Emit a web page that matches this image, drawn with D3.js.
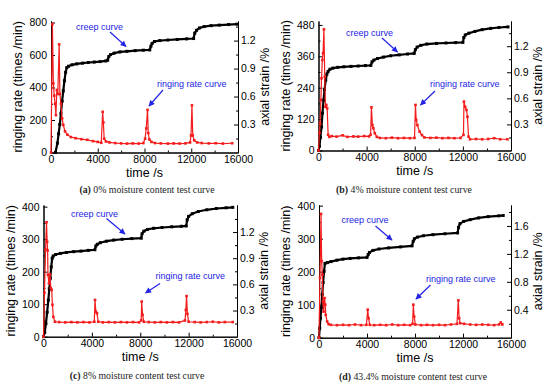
<!DOCTYPE html>
<html>
<head>
<meta charset="utf-8">
<script src="https://cdn.jsdelivr.net/npm/d3@7"></script>
<style>
  body { margin: 0; background: #fff; }
  svg { display: block; }
  .tick text { font-family: "Liberation Sans", Arial, sans-serif; font-size: 10.5px; fill: #000; }
  .title { font-family: "Liberation Sans", Arial, sans-serif; font-size: 12.5px; fill: #000; }
  .note { font-family: "Liberation Sans", Arial, sans-serif; font-size: 9px; fill: #2323e6; }
  .caption { font-family: "Liberation Serif", "DejaVu Serif", serif; font-size: 9.8px; fill: #222; }
</style>
</head>
<body>
<div id="chart"></div>
<script>

// time axis ticks (shared)
var timeTicks = [0, 4000, 8000, 12000, 16000];
var timeMinor = [2000, 6000, 10000, 14000];

// (a) 0% moisture
var creepA = [[380,0],[550,0.1],[650,0.2],[750,0.3],[850,0.42],[950,0.55],[1050,0.66],[1150,0.77],[1250,0.86],[1350,0.91],
  [1500,0.925],[1800,0.94],[2200,0.95],[2700,0.958],[3200,0.965],[3700,0.97],[4200,0.975],[4700,0.982],[4850,0.99],
  [4950,1.03],[5100,1.05],[5400,1.065],[5900,1.078],[6500,1.085],[7200,1.092],[7900,1.097],[8450,1.1],
  [8550,1.14],[8650,1.17],[8850,1.19],[9300,1.2],[10000,1.206],[10800,1.212],[11600,1.218],[12200,1.222],
  [12300,1.28],[12450,1.31],[12700,1.335],[13100,1.35],[13700,1.36],[14400,1.366],[15200,1.372],[15900,1.376]];
var rateA = [[0,0],[120,790],[200,425],[280,350],[350,300],[420,230],[500,385],[580,360],[700,665],[760,360],[850,300],
  [950,210],[1050,170],[1200,130],[1400,110],[1700,95],[2100,88],[2600,82],[3100,78],[3600,70],[4000,65],[4300,60],
  [4420,250],[4480,185],[4550,85],[4700,68],[5000,62],[5500,58],[6000,56],[6500,55],[7000,56],[7500,55],[7900,58],
  [8050,85],[8150,148],[8260,262],[8320,120],[8420,80],[8600,65],[8900,58],[9400,56],[10000,55],[10500,56],[11000,55],
  [11500,56],[11900,62],[11980,105],[12060,290],[12130,105],[12250,75],[12500,62],[12900,58],[13500,56],[14100,57],
  [14700,55],[15500,57]];
var rateTicksA = [0, 200, 400, 600, 800];
var strainTicksA = [0.3, 0.6, 0.9, 1.2];

// (b) 4% moisture
var creepB = [[0,0],[80,0.05],[160,0.15],[250,0.27],[330,0.43],[420,0.58],[500,0.7],[600,0.81],[700,0.88],[800,0.91],
  [950,0.935],[1200,0.948],[1600,0.957],[2100,0.963],[2700,0.968],[3300,0.972],[3900,0.977],[4350,0.98],
  [4450,1.02],[4600,1.04],[4900,1.058],[5400,1.075],[6000,1.09],[6700,1.1],[7400,1.11],[7950,1.117],
  [8050,1.16],[8200,1.19],[8500,1.21],[9000,1.225],[9800,1.232],[10600,1.237],[11400,1.241],[12000,1.244],
  [12080,1.3],[12200,1.33],[12500,1.35],[13000,1.37],[13600,1.39],[14300,1.405],[15000,1.415],[15750,1.422]];
var rateB = [[0,0],[80,67],[130,104],[200,193],[250,276],[320,346],[380,372],[450,463],[520,282],[580,167],[650,174],
  [720,161],[800,60],[900,52],[1100,55],[1500,53],[2000,58],[2400,52],[2900,54],[3300,53],[3800,55],[4200,54],
  [4330,60],[4400,165],[4480,97],[4560,85],[4680,66],[4850,52],[5100,48],[5600,47],[6100,49],[6600,47],[7100,48],
  [7600,47],[7980,48],[8060,174],[8120,117],[8220,97],[8400,72],[8600,59],[8800,50],[9300,48],[9800,49],[10300,47],
  [10800,48],[11300,47],[11800,48],[12050,60],[12090,187],[12190,167],[12300,155],[12380,129],[12470,53],[12600,43],
  [13100,44],[13600,43],[14100,44],[14600,47],[15100,43],[15700,43]];
var rateTicksB = [0, 120, 240, 360, 480];
var strainTicksB = [0.3, 0.6, 0.9, 1.2];

// (c) 8% moisture
var creepC = [[0,0],[100,0.05],[200,0.15],[300,0.28],[400,0.42],[480,0.55],[560,0.67],[640,0.8],[720,0.9],[800,0.925],
  [1000,0.942],[1400,0.955],[1900,0.966],[2500,0.975],[3100,0.982],[3700,0.99],[4250,0.997],
  [4330,1.04],[4450,1.06],[4700,1.078],[5200,1.095],[5800,1.108],[6500,1.117],[7300,1.125],[8080,1.13],
  [8150,1.18],[8300,1.21],[8600,1.23],[9100,1.243],[9800,1.252],[10600,1.26],[11400,1.266],[11800,1.27],
  [11880,1.34],[12000,1.38],[12300,1.41],[12800,1.435],[13500,1.455],[14300,1.47],[15100,1.478],[15650,1.483]];
var rateC = [[0,0],[80,135],[170,268],[250,352],[300,292],[340,265],[370,190],[450,164],[540,192],[600,150],[675,144],
  [740,98],[810,61],[950,46],[1300,45],[1800,44],[2300,45],[2800,44],[3300,45],[3800,44],[4200,46],
  [4260,113],[4330,77],[4420,72],[4530,46],[4900,44],[5400,45],[5900,44],[6400,45],[6900,44],[7400,45],[7900,44],
  [8080,50],[8120,108],[8190,67],[8300,46],[8700,45],[9200,44],[9700,45],[10200,44],[10700,45],[11200,44],
  [11700,50],[11770,82],[11830,125],[11900,70],[12000,46],[12500,45],[13000,44],[13500,45],[14000,46],[14500,44],
  [15000,45],[15650,45]];
var rateTicksC = [0, 100, 200, 300, 400];
var strainTicksC = [0.3, 0.6, 0.9, 1.2];

// (d) 43.4% moisture
var creepD = [[0,0],[60,0.136],[120,0.28],[200,0.43],[270,0.62],[340,0.79],[420,0.95],[500,1.064],[700,1.075],
  [1000,1.09],[1500,1.11],[2000,1.125],[2600,1.135],[3300,1.143],[4000,1.15],
  [4100,1.19],[4200,1.22],[4500,1.25],[5000,1.27],[5800,1.285],[6800,1.3],[7750,1.315],
  [7850,1.38],[7950,1.416],[8200,1.44],[8700,1.46],[9500,1.475],[10500,1.488],[11550,1.5],
  [11630,1.58],[11750,1.633],[12050,1.665],[12600,1.69],[13300,1.715],[14100,1.733],[15000,1.745],[15350,1.75]];
var rateD = [[0,0],[80,181],[170,375],[220,232],[280,191],[330,110],[380,79],[420,100],[460,120],[520,100],[560,69],
  [680,49],[800,41],[1000,39],[1500,38],[2000,39],[2500,38],[3000,40],[3500,38],[3950,39],
  [4060,85],[4130,59],[4230,39],[4600,38],[5100,39],[5600,38],[6100,40],[6600,38],[7100,39],[7600,38],
  [7800,42],[7860,100],[7930,64],[8030,40],[8500,38],[9000,39],[9500,38],[10000,39],[10500,38],[11000,40],
  [11500,42],[11610,113],[11680,59],[11760,44],[12100,42],[12600,40],[13100,39],[13600,40],[14100,39],[14600,38],
  [15000,40],[15150,46],[15280,40]];
var rateTicksD = [0, 100, 200, 300, 400];
var strainTicksD = [0.4, 0.8, 1.2, 1.6];

var captions = [["(a)", " 0% moisture content test curve"], ["(b)", " 4% moisture content test curve"],
  ["(c)", " 8% moisture content test curve"], ["(d)", " 43.4% moisture content test curve"]];

// panel layout (pixels)
var panels = [
  { x0: 51, x1: 238, yb: 152.5, yt: 21, rateMax: 809, strainMax: 1.41,
    creep: creepA, rate: rateA, rateTicks: rateTicksA, strainTicks: strainTicksA, cap: captions[0], capX: 147, capY: 193,
    creepNote: [76, 30, 110, 32, 126, 46.5], rateNote: [157, 87, 163, 90, 149, 106] },
  { x0: 318.5, x1: 511, yb: 150.5, yt: 21, rateMax: 495, strainMax: 1.49,
    creep: creepB, rate: rateB, rateTicks: rateTicksB, strainTicks: strainTicksB, cap: captions[1], capX: 404, capY: 193,
    creepNote: [346, 36, 382, 38, 397.5, 52], rateNote: [430, 86.5, 435, 91, 420.5, 105] },
  { x0: 43.5, x1: 237, yb: 336.7, yt: 205, rateMax: 405, strainMax: 1.51,
    creep: creepC, rate: rateC, rateTicks: rateTicksC, strainTicks: strainTicksC, cap: captions[2], capX: 137, capY: 379,
    creepNote: [71, 217, 106.5, 218.5, 125, 234], rateNote: [155.5, 279, 160, 283.5, 145.5, 293] },
  { x0: 319, x1: 511, yb: 337.7, yt: 205, rateMax: 402, strainMax: 1.9,
    creep: creepD, rate: rateD, rateTicks: rateTicksD, strainTicks: strainTicksD, cap: captions[3], capX: 413, capY: 380,
    creepNote: [341.5, 223, 375.5, 226, 392, 240], rateNote: [426, 281.5, 430.5, 285, 416, 299] }
];

var svg = d3.select("#chart").append("svg")
  .attr("width", 550)
  .attr("height", 389);

var defs = svg.append("defs");
defs.append("marker")
  .attr("id", "head")
  .attr("viewBox", "0 0 10 10")
  .attr("refX", 9).attr("refY", 5)
  .attr("markerWidth", 7).attr("markerHeight", 6)
  .attr("markerUnits", "userSpaceOnUse")
  .attr("orient", "auto")
  .append("path")
    .attr("d", "M0,0L10,5L0,10z")
    .attr("fill", "#2323e6");

panels.forEach(function(p) {

  var x = d3.scaleLinear().domain([0, 16000]).range([p.x0, p.x1]);
  var yL = d3.scaleLinear().domain([0, p.rateMax]).range([p.yb, p.yt]);
  var yR = d3.scaleLinear().domain([0, p.strainMax]).range([p.yb, p.yt]);
  var g = svg.append("g");

  // axes
  g.append("g").attr("transform", "translate(0," + p.yb + ")")
    .call(d3.axisBottom(x).tickValues(timeTicks).tickSizeInner(-4).tickSizeOuter(0).tickPadding(3).tickFormat(d3.format("d")));
  g.append("g").attr("transform", "translate(0," + p.yb + ")")
    .call(d3.axisBottom(x).tickValues(timeMinor).tickSizeInner(-2).tickSizeOuter(0).tickFormat(""));

  var stepL = p.rateTicks[1] - p.rateTicks[0];
  var minorL = p.rateTicks.map(function(v) { return v + stepL / 2; }).filter(function(v) { return v < p.rateMax; });
  g.append("g").attr("transform", "translate(" + p.x0 + ",0)")
    .call(d3.axisLeft(yL).tickValues(p.rateTicks).tickSizeInner(-4).tickSizeOuter(0).tickPadding(4));
  g.append("g").attr("transform", "translate(" + p.x0 + ",0)")
    .call(d3.axisLeft(yL).tickValues(minorL).tickSizeInner(-2).tickSizeOuter(0).tickFormat(""));

  var stepR = p.strainTicks[1] - p.strainTicks[0];
  var minorR = [0].concat(p.strainTicks).map(function(v) { return v + stepR / 2; }).filter(function(v) { return v < p.strainMax; });
  g.append("g").attr("transform", "translate(" + p.x1 + ",0)")
    .call(d3.axisRight(yR).tickValues(p.strainTicks).tickSizeInner(-4).tickSizeOuter(0).tickPadding(3).tickFormat(d3.format(".1f")));
  g.append("g").attr("transform", "translate(" + p.x1 + ",0)")
    .call(d3.axisRight(yR).tickValues(minorR).tickSizeInner(-2).tickSizeOuter(0).tickFormat(""));

  g.selectAll(".domain, .tick line").attr("stroke", "#000").attr("stroke-width", 1);

  // axis titles
  g.append("text").attr("class", "title")
    .attr("x", (p.x0 + p.x1) / 2).attr("y", p.yb + 24)
    .attr("text-anchor", "middle").text("time /s");
  g.append("text").attr("class", "title")
    .attr("transform", "translate(" + (p.x0 - 29) + "," + ((p.yb + p.yt) / 2) + ") rotate(-90)")
    .attr("text-anchor", "middle").text("ringing rate (times /min)");
  g.append("text").attr("class", "title")
    .attr("transform", "translate(" + (p.x1 + 31) + "," + ((p.yb + p.yt) / 2) + ") rotate(-90)")
    .attr("text-anchor", "middle").text("axial strain /%");

  // creep curve
  g.append("path").datum(p.creep)
    .attr("fill", "none").attr("stroke", "#000").attr("stroke-width", 2.2)
    .attr("d", d3.line().x(function(d) { return x(d[0]); }).y(function(d) { return yR(d[1]); }));
  g.selectAll(".cm").data(p.creep).enter().append("rect")
    .attr("x", function(d) { return x(d[0]) - 1.5; })
    .attr("y", function(d) { return yR(d[1]) - 1.5; })
    .attr("width", 3).attr("height", 3).attr("fill", "#000");

  // ringing rate curve
  g.append("path").datum(p.rate)
    .attr("fill", "none").attr("stroke", "#f41c1c").attr("stroke-width", 1.2)
    .attr("d", d3.line().x(function(d) { return x(d[0]); }).y(function(d) { return yL(d[1]); }));
  g.selectAll(".rm").data(p.rate).enter().append("rect")
    .attr("x", function(d) { return x(d[0]) - 1.3; })
    .attr("y", function(d) { return yL(d[1]) - 1.3; })
    .attr("width", 2.6).attr("height", 2.6).attr("fill", "#f41c1c");

  // notes with arrows
  [[p.creepNote, "creep curve"], [p.rateNote, "ringing rate curve"]].forEach(function(n) {
    var a = n[0];
    g.append("text").attr("class", "note").attr("x", a[0]).attr("y", a[1]).text(n[1]);
    g.append("line")
      .attr("x1", a[2]).attr("y1", a[3]).attr("x2", a[4]).attr("y2", a[5])
      .attr("stroke", "#2323e6").attr("stroke-width", 1.2)
      .attr("marker-end", "url(#head)");
  });

  // caption
  var cap = svg.append("text").attr("class", "caption")
    .attr("x", p.capX).attr("y", p.capY).attr("text-anchor", "middle");
  cap.append("tspan").attr("font-weight", "bold").text(p.cap[0]);
  cap.append("tspan").text(p.cap[1]);
});

</script>
</body>
</html>
